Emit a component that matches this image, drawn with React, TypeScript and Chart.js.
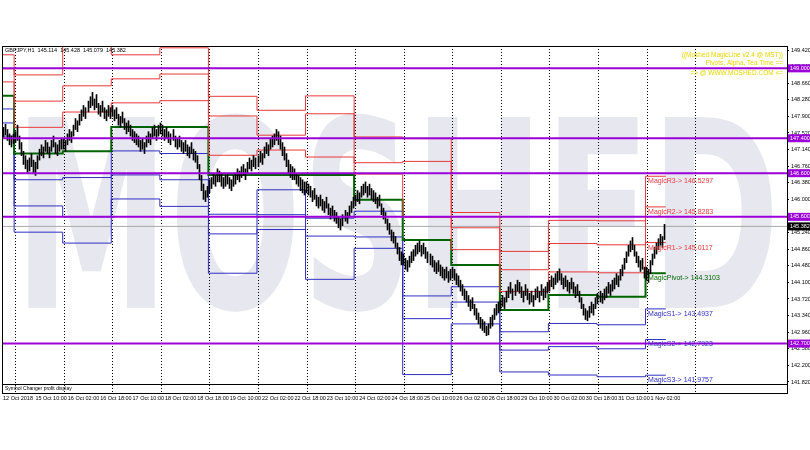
import React, { useEffect, useRef } from "react";
import { Chart, registerables } from "chart.js";
Chart.register(...registerables);

const headerText = "GBPJPY,H1  145.114  145.428  145.079  145.382";
const lastPrice = 145.382;
const watermark = "MOSHED";
const infoLines = ["((Moshed MagicLine v2.4 @ MST))", "Pivots, Alpha, Tea Time ==", "=> @ WWW.MOSHED.COM <="];
const infoY = [55, 63, 73];
const subTitle = "Symbol Changer profit display";

const dateLabels = ["12 Oct 2018", "15 Oct 10:00", "16 Oct 02:00", "16 Oct 18:00", "17 Oct 10:00", "18 Oct 02:00", "18 Oct 18:00", "19 Oct 10:00", "22 Oct 02:00", "22 Oct 18:00", "23 Oct 10:00", "24 Oct 02:00", "24 Oct 18:00", "25 Oct 10:00", "26 Oct 02:00", "26 Oct 18:00", "29 Oct 10:00", "30 Oct 02:00", "30 Oct 18:00", "31 Oct 10:00", "1 Nov 02:00"];
const dateTickBars = [0, 16, 32, 48, 64, 80, 96, 112, 128, 144, 160, 176, 192, 208, 224, 240, 256, 272, 288, 304, 320];
const priceTicks = [149.42, 149.04, 148.66, 148.28, 147.9, 147.52, 147.14, 146.76, 146.38, 146.0, 145.62, 145.24, 144.86, 144.48, 144.1, 143.72, 143.34, 142.96, 142.58, 142.2, 141.82];
const purpleLevels = [149.0, 147.4, 146.6, 145.6, 142.7];

const dayStartBars = [0, 6, 30, 54, 78, 102, 126, 150, 174, 198, 222, 246, 270, 294, 318];
const separatorBars = [6, 30, 54, 78, 102, 126, 150, 174, 198, 222, 246, 270, 294, 318, 342];

const magicNames = ["MagicR3", "MagicR2", "MagicR1", "MagicPivot", "MagicS1", "MagicS2", "MagicS3"];
const r3 = [149.31, 148.85, 149.5, 149.31, 149.47, 148.36, 148.04, 148.37, 147.43, 147.39, 145.7, 144.81, 145.52, 145.51, 146.5297];
const r2 = [148.99, 148.25, 148.6, 148.76, 148.87, 147.91, 147.47, 147.96, 146.84, 146.87, 145.35, 144.39, 144.99, 144.96, 145.8283];
const r1 = [148.69, 147.65, 148.0, 148.21, 148.26, 147.01, 147.13, 146.97, 146.58, 145.59, 144.85, 143.89, 144.34, 144.32, 145.0117];
const pivot = [148.37, 147.05, 147.1, 147.66, 147.66, 146.56, 146.56, 146.56, 145.99, 145.07, 144.5, 143.47, 143.81, 143.77, 144.3103];
const s1 = [148.07, 146.45, 146.5, 147.11, 147.05, 145.66, 146.22, 145.57, 145.73, 143.79, 144.0, 142.97, 143.16, 143.13, 143.4937];
const s2 = [147.75, 145.85, 145.6, 146.56, 146.45, 145.21, 145.65, 145.16, 145.14, 143.27, 143.65, 142.55, 142.63, 142.58, 142.7923];
const s3 = [147.45, 145.25, 145.0, 146.01, 145.84, 144.31, 145.31, 144.17, 144.88, 141.99, 143.15, 142.05, 141.98, 141.94, 141.9757];

const highs = [
  147.65, 147.72, 147.6, 147.5, 147.45, 147.5,
  147.55, 147.7, 147.45, 147.3, 147.1, 147.0, 146.9, 146.95, 147.05, 146.9, 146.85, 147.0, 147.15, 147.25, 147.2, 147.35, 147.3, 147.2, 147.35, 147.45, 147.3, 147.25, 147.35, 147.4,
  147.4, 147.35, 147.5, 147.6, 147.55, 147.7, 147.85, 147.8, 147.95, 148.05, 148.15, 148.1, 148.25, 148.35, 148.45, 148.3, 148.4, 148.2, 148.15, 148.25, 148.1, 148.05, 148.15, 148.1,
  148.15, 148.05, 148.1, 147.95, 147.9, 148.0, 147.85, 147.75, 147.8, 147.7, 147.6, 147.55, 147.5, 147.45, 147.35, 147.4, 147.3, 147.45, 147.55, 147.5, 147.65, 147.7, 147.6, 147.7,
  147.75, 147.7, 147.6, 147.65, 147.55, 147.5, 147.6, 147.45, 147.4, 147.45, 147.35, 147.3, 147.35, 147.25, 147.2, 147.3, 147.15, 147.1, 147.0, 146.8, 146.55, 146.35, 146.2, 146.3,
  146.45, 146.5, 146.6, 146.55, 146.7, 146.65, 146.6, 146.5, 146.55, 146.6, 146.5, 146.45, 146.55, 146.6, 146.7, 146.65, 146.75, 146.8, 146.7, 146.85, 146.95, 146.9, 147.0, 146.95,
  147.0, 147.1, 147.05, 147.2, 147.3, 147.25, 147.4, 147.45, 147.5, 147.6, 147.55, 147.45, 147.3, 147.2, 147.05, 146.9, 146.8, 146.75, 146.7, 146.6, 146.55, 146.5, 146.45, 146.4,
  146.4, 146.35, 146.3, 146.2, 146.25, 146.1, 146.05, 146.1, 146.0, 145.95, 146.05, 145.9, 145.8, 145.85, 145.75, 145.7, 145.6, 145.55, 145.65, 145.75, 145.7, 145.85, 145.95, 146.05,
  146.1, 146.2, 146.15, 146.3, 146.35, 146.4, 146.3, 146.35, 146.25, 146.2, 146.15, 146.05, 146.1, 145.9, 145.8, 145.7, 145.55, 145.45, 145.3, 145.25, 145.15, 145.0, 144.9, 144.8,
  144.75, 144.65, 144.6, 144.7, 144.8, 144.85, 144.95, 145.0, 145.05, 144.95, 145.0, 144.9, 144.8, 144.75, 144.7, 144.6, 144.55, 144.6, 144.5, 144.45, 144.4, 144.45, 144.35, 144.4,
  144.45, 144.4, 144.3, 144.25, 144.15, 144.05, 143.95, 143.9, 143.8, 143.7, 143.75, 143.6, 143.5, 143.4, 143.3, 143.25, 143.2, 143.1, 143.15, 143.3, 143.35, 143.5, 143.6, 143.65,
  143.7, 143.8, 143.75, 143.9, 144.0, 144.1, 143.95, 144.05, 144.15, 144.1, 144.0, 143.9, 144.05, 143.95, 143.85, 143.9, 143.8, 143.95, 144.0, 143.9, 144.05, 143.95, 144.0, 144.1,
  144.15, 144.25, 144.2, 144.3, 144.35, 144.41, 144.3, 144.2, 144.25, 144.15, 144.1, 144.2, 144.1, 144.0, 144.05, 143.9, 143.75, 143.6, 143.5, 143.45, 143.55, 143.65, 143.6, 143.75,
  143.85, 143.9, 143.85, 143.95, 144.0, 144.1, 144.05, 144.15, 144.2, 144.3, 144.25, 144.4, 144.5, 144.65, 144.8, 144.95, 145.05, 145.127, 144.95, 144.8, 144.7, 144.6, 144.65, 144.45,
  144.45, 144.4, 144.6, 144.75, 144.9, 145.0, 145.1, 145.2, 145.15, 145.428
];
const lows = [
  147.42, 147.48, 147.35, 147.25, 147.2, 147.28,
  147.3, 147.35, 147.15, 147.0, 146.8, 146.7, 146.6, 146.65, 146.75, 146.6, 146.55, 146.7, 146.9, 147.0, 146.95, 147.1, 147.05, 146.95, 147.1, 147.2, 147.05, 147.0, 147.1, 147.15,
  147.15, 147.1, 147.25, 147.35, 147.3, 147.45, 147.6, 147.55, 147.7, 147.8, 147.9, 147.85, 148.0, 148.1, 148.15, 148.05, 148.1, 147.95, 147.9, 148.0, 147.85, 147.8, 147.9, 147.85,
  147.9, 147.8, 147.85, 147.7, 147.65, 147.75, 147.6, 147.5, 147.55, 147.45, 147.35, 147.3, 147.25, 147.2, 147.1, 147.15, 147.05, 147.2, 147.3, 147.25, 147.4, 147.45, 147.35, 147.45,
  147.5, 147.45, 147.35, 147.4, 147.3, 147.25, 147.35, 147.2, 147.15, 147.2, 147.1, 147.05, 147.1, 147.0, 146.95, 147.05, 146.9, 146.85, 146.7, 146.45, 146.2, 146.0, 145.95, 146.05,
  146.15, 146.25, 146.35, 146.3, 146.4, 146.4, 146.3, 146.25, 146.3, 146.35, 146.25, 146.2, 146.3, 146.35, 146.45, 146.4, 146.5, 146.55, 146.45, 146.6, 146.7, 146.65, 146.75, 146.7,
  146.75, 146.85, 146.8, 146.95, 147.05, 147.0, 147.15, 147.2, 147.25, 147.35, 147.25, 147.15, 147.0, 146.9, 146.75, 146.6, 146.5, 146.45, 146.45, 146.35, 146.3, 146.2, 146.15, 146.1,
  146.15, 146.1, 146.05, 145.95, 146.0, 145.85, 145.8, 145.85, 145.75, 145.7, 145.8, 145.65, 145.55, 145.6, 145.5, 145.45, 145.35, 145.3, 145.4, 145.5, 145.45, 145.6, 145.7, 145.8,
  145.85, 145.95, 145.9, 146.05, 146.1, 146.15, 146.05, 146.1, 146.0, 145.95, 145.9, 145.8, 145.85, 145.65, 145.55, 145.45, 145.3, 145.2, 145.05, 145.0, 144.9, 144.75, 144.6, 144.5,
  144.5, 144.4, 144.35, 144.45, 144.55, 144.6, 144.7, 144.75, 144.8, 144.7, 144.75, 144.65, 144.55, 144.5, 144.45, 144.35, 144.3, 144.35, 144.25, 144.2, 144.15, 144.2, 144.1, 144.15,
  144.2, 144.15, 144.05, 144.0, 143.9, 143.8, 143.7, 143.65, 143.55, 143.45, 143.5, 143.35, 143.25, 143.15, 143.05, 143.0, 142.95, 142.88, 142.9, 143.05, 143.1, 143.25, 143.35, 143.4,
  143.45, 143.55, 143.5, 143.65, 143.75, 143.85, 143.7, 143.8, 143.9, 143.85, 143.75, 143.65, 143.8, 143.7, 143.6, 143.65, 143.55, 143.7, 143.75, 143.65, 143.8, 143.7, 143.75, 143.85,
  143.9, 144.0, 143.95, 144.05, 144.1, 144.15, 144.05, 143.95, 144.0, 143.9, 143.85, 143.95, 143.85, 143.75, 143.8, 143.65, 143.5, 143.35, 143.25, 143.22, 143.3, 143.4, 143.35, 143.5,
  143.61, 143.65, 143.62, 143.7, 143.75, 143.85, 143.8, 143.9, 143.95, 144.05, 144.0, 144.15, 144.25, 144.4, 144.55, 144.7, 144.8, 144.85, 144.7, 144.55, 144.45, 144.35, 144.4, 144.2,
  144.15, 144.1, 144.3, 144.5, 144.65, 144.75, 144.85, 144.95, 144.9, 145.079
];

const RED = "#e8383a";
const BLUE = "#2f2fc2";
const GREEN = "#006400";
const PURPLE = "#9b00d9";
const FONT = "Liberation Sans";

const levelSets = [r3, r2, r1, pivot, s1, s2, s3];
const levelColors = [RED, RED, RED, GREEN, BLUE, BLUE, BLUE];
const levelWidths = [1, 1, 1, 2, 1, 1, 1];

export default function App() {
  const ref = useRef<HTMLCanvasElement | null>(null);
  useEffect(() => {
    const canvas = ref.current;
    if (!canvas) return;
    const lastBar = highs.length - 1;
    const xMin = -0.5;
    const xMax = 387.4;

    const stepData = (arr: number[]) => {
      const pts = dayStartBars.map((b, i) => ({ x: b - 0.5, y: arr[i] }));
      pts.push({ x: lastBar + 0.5, y: arr[arr.length - 1] });
      return pts;
    };

    const datasets: any[] = [];
    levelSets.forEach((arr, k) => {
      datasets.push({
        type: "line",
        data: stepData(arr),
        borderColor: levelColors[k],
        borderWidth: levelWidths[k],
        stepped: "before",
        pointRadius: 0,
        fill: false,
        order: 2,
      });
    });
    datasets.push({
      type: "bar",
      data: highs.map((h, i) => ({ x: i, y: [lows[i], h] })),
      backgroundColor: "#000",
      barThickness: 1,
      grouped: false,
      order: 1,
    });
    purpleLevels.forEach((lv) => {
      datasets.push({
        type: "line",
        data: [{ x: xMin, y: lv }, { x: xMax, y: lv }],
        borderColor: PURPLE,
        borderWidth: 2,
        pointRadius: 0,
        order: 0,
      });
    });
    datasets.push({
      type: "line",
      data: [{ x: xMin, y: lastPrice }, { x: xMax, y: lastPrice }],
      borderColor: "#a8a8a8",
      borderWidth: 1,
      pointRadius: 0,
      order: 3,
    });

    const plugin = {
      id: "mt4",
      beforeDatasetDraw(chart: any, args: any) {
        if (args.meta.type === "bar") {
          args.meta.data.forEach((el: any) => {
            el.x = Math.floor(el.x) + 0.5;
          });
        }
      },
      beforeDatasetsDraw(chart: any) {
        const { ctx, chartArea: a, scales } = chart;
        const x = scales.x;
        ctx.save();
        ctx.beginPath();
        ctx.rect(a.left, a.top, a.right - a.left, a.bottom - a.top);
        ctx.clip();
        ctx.font = `bold 262px "DejaVu Sans"`;
        ctx.fillStyle = "#e7e7ef";
        ctx.textBaseline = "alphabetic";
        const w = ctx.measureText(watermark).width;
        ctx.translate(14, 308);
        ctx.scale(766 / w, 1);
        ctx.fillText(watermark, 0, 0);
        ctx.restore();

        ctx.save();
        ctx.strokeStyle = "#000";
        ctx.lineWidth = 1;
        ctx.setLineDash([1, 2]);
        separatorBars.forEach((b) => {
          const px = Math.round(x.getPixelForValue(b)) + 0.5;
          ctx.beginPath();
          ctx.moveTo(px, a.top);
          ctx.lineTo(px, a.bottom + 9);
          ctx.stroke();
        });
        ctx.restore();
      },
      afterDatasetsDraw(chart: any) {
        const { ctx, chartArea: a, scales } = chart;
        const x = scales.x;
        const y = scales.y;
        ctx.save();
        ctx.font = `7px ${FONT}`;
        ctx.textBaseline = "top";
        ctx.textAlign = "left";
        const lx = x.getPixelForValue(dayStartBars[dayStartBars.length - 1]) + 1.5;
        levelSets.forEach((arr, k) => {
          const v = arr[arr.length - 1];
          ctx.fillStyle = levelColors[k];
          ctx.fillText(`${magicNames[k]}-> ${v.toFixed(4)}`, lx, y.getPixelForValue(v) + 1.5);
        });
        ctx.fillStyle = "#000";
        ctx.font = `5.5px ${FONT}`;
        ctx.textBaseline = "middle";
        ctx.fillText(headerText, a.left + 3, a.top + 4);
        ctx.fillStyle = "#e8d400";
        ctx.font = `6.5px ${FONT}`;
        ctx.textAlign = "right";
        infoLines.forEach((t, i) => ctx.fillText(t, 783, infoY[i]));
        ctx.strokeStyle = "#000";
        ctx.lineWidth = 1;
        ctx.strokeRect(a.left + 0.5, a.top + 0.5, a.right - a.left, a.bottom - a.top);
        ctx.strokeRect(a.left + 0.5, a.bottom + 0.5, a.right - a.left, 9);
        ctx.textAlign = "left";
        ctx.font = `5px ${FONT}`;
        ctx.fillStyle = "#000";
        ctx.fillText(subTitle, a.left + 3, a.bottom + 5);
        const box = (v: number, bg: string) => {
          const py = y.getPixelForValue(v);
          ctx.fillStyle = bg;
          ctx.fillRect(a.right + 1, py - 4, 22, 8);
          ctx.fillStyle = "#fff";
          ctx.font = `5.5px ${FONT}`;
          ctx.textBaseline = "middle";
          ctx.fillText(v.toFixed(3), a.right + 3, py);
        };
        purpleLevels.forEach((v) => box(v, PURPLE));
        box(lastPrice, "#000");
        ctx.restore();
      },
    };

    const chart = new Chart(canvas, {
      type: "bar",
      data: { datasets },
      options: {
        animation: false,
        responsive: false,
        events: [],
        layout: { padding: { top: 46, left: 2, right: 0, bottom: 46 } },
        plugins: { legend: { display: false }, tooltip: { enabled: false } },
        scales: {
          x: {
            type: "linear",
            offset: false,
            min: xMin,
            max: xMax,
            afterBuildTicks: (s: any) => {
              s.ticks = dateTickBars.map((v) => ({ value: v }));
            },
            afterFit: (s: any) => {
              s.height = 20;
              s.paddingLeft = 0;
              s.paddingRight = 0;
            },
            ticks: {
              autoSkip: false,
              maxRotation: 0,
              align: "start",
              padding: 11,
              color: "#000",
              font: { size: 5.5, family: FONT },
              callback: (_v: any, i: number) => dateLabels[i],
            },
            grid: { drawOnChartArea: false, drawTicks: false, offset: false },
            border: { display: false },
          },
          y: {
            position: "right",
            min: 141.774,
            max: 149.5116,
            afterBuildTicks: (s: any) => {
              s.ticks = priceTicks.map((v) => ({ value: v }));
            },
            afterFit: (s: any) => {
              s.width = 23;
              s.paddingTop = 0;
              s.paddingBottom = 0;
            },
            ticks: {
              autoSkip: false,
              padding: 2,
              color: "#000",
              font: { size: 5.5, family: FONT },
              callback: (v: any) => Number(v).toFixed(3),
            },
            grid: { drawOnChartArea: false, drawTicks: true, tickLength: 2, color: "#000" },
            border: { display: true, color: "#000" },
          },
        },
      },
      plugins: [plugin],
    } as any);
    return () => chart.destroy();
  }, []);
  return (
    <div style={{ position: "fixed", left: 0, top: 0, width: 810, height: 450, background: "#fff" }}>
      <canvas ref={ref} width={810} height={450} style={{ width: 810, height: 450, display: "block" }} />
    </div>
  );
}
